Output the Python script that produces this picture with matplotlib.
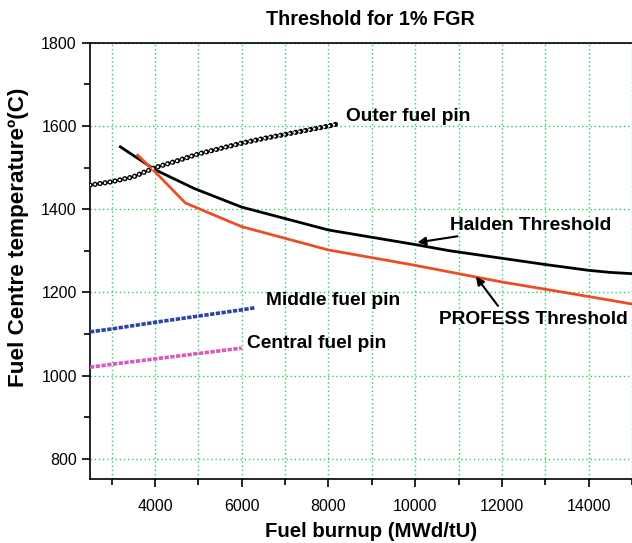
import matplotlib
matplotlib.use("Agg")
import matplotlib.pyplot as plt
from matplotlib.ticker import MultipleLocator

plt.rcParams['font.family'] = ['Liberation Sans', 'DejaVu Sans']

# Data
outer_x = [2500, 3000, 3500, 4000, 4500, 5000, 5500, 6000, 6500, 7000, 7500, 8000, 8200]
outer_y = [1458, 1466, 1478, 1500, 1516, 1533, 1546, 1559, 1570, 1580, 1590, 1600, 1605]

middle_x = [2500, 3000, 4000, 5000, 6000, 6300]
middle_y = [1105, 1112, 1128, 1143, 1158, 1163]

central_x = [2500, 3000, 4000, 5000, 6000]
central_y = [1020, 1027, 1040, 1053, 1066]

halden_x = [3200, 4000, 4900, 6000, 8000, 10000, 10800, 12000, 13000, 14000, 14500, 15000]
halden_y = [1550, 1495, 1450, 1405, 1350, 1315, 1300, 1282, 1267, 1253, 1248, 1245]

profess_x = [3600, 4000, 4700, 6000, 8000, 10000, 12000, 14000, 15000]
profess_y = [1530, 1490, 1415, 1358, 1302, 1265, 1225, 1190, 1172]

fig = plt.figure(figsize=(6.32, 5.43), dpi=100)
ax = fig.add_axes([0.1424, 0.117, 0.8576, 0.804])

# grid first so the curves sit on top
ax.set_xlim(2500, 15000)
ax.set_ylim(750, 1800)
ax.xaxis.set_major_locator(MultipleLocator(2000))
ax.xaxis.set_minor_locator(MultipleLocator(1000))
ax.yaxis.set_major_locator(MultipleLocator(200))
ax.yaxis.set_minor_locator(MultipleLocator(100))
ax.grid(True, axis='x', which='both', color='#2ecc60', linestyle=(0, (1, 2)), linewidth=1)
ax.grid(True, axis='y', which='major', color='#2ecc60', linestyle=(0, (1, 2)), linewidth=1)
ax.set_axisbelow(True)

# outer pin: chain of open circles (black round dots with white centres)
ax.plot(outer_x, outer_y, color='black', linewidth=3.8, linestyle=(0, (0.01, 0.95)),
        dash_capstyle='round', zorder=3)
ax.plot(outer_x, outer_y, color='white', linewidth=1.8, linestyle=(0, (0.01, 3.8 * 0.95 / 1.8)),
        dash_capstyle='round', zorder=4)

ax.plot(middle_x, middle_y, color='#2b44a6', linewidth=2.6, linestyle=(0, (1.2, 0.4)), zorder=3)
ax.plot(central_x, central_y, color='#d65bbd', linewidth=2.6, linestyle=(0, (1.2, 0.4)), zorder=3)

ax.plot(halden_x, halden_y, color='black', linewidth=2, zorder=3)
ax.plot(profess_x, profess_y, color='#ea4f24', linewidth=2, zorder=3)

lab = dict(fontsize=13.8, fontweight='bold', va='center')
ax.text(8400, 1622, 'Outer fuel pin', **lab)
ax.text(6560, 1181, 'Middle fuel pin', **lab)
ax.text(6120, 1077, 'Central fuel pin', **lab)
ax.annotate('Halden Threshold', xy=(10050, 1320), xytext=(10800, 1362),
            arrowprops=dict(arrowstyle='-|>', color='black', lw=1.5, mutation_scale=12,
                            shrinkA=0, shrinkB=0),
            **lab)
ax.annotate('PROFESS Threshold', xy=(11400, 1238), xytext=(10560, 1135),
            arrowprops=dict(arrowstyle='-|>', color='black', lw=1.5, mutation_scale=12,
                            shrinkA=2, shrinkB=0, relpos=(0.33, 1.0)),
            **lab)

ax.spines['right'].set_visible(False)
for s in ['left', 'bottom', 'top']:
    ax.spines[s].set_linewidth(1.2)
ax.tick_params(which='major', direction='out', length=6, width=1.2, labelsize=11.5)
ax.tick_params(which='minor', direction='out', length=4, width=1.2)
ax.tick_params(axis='x', which='both', top=False)
ax.tick_params(axis='x', pad=8)

ax.set_title('Threshold for 1% FGR', fontsize=14.2, fontweight='bold', pad=13, x=0.517)
ax.set_xlabel('Fuel burnup (MWd/tU)', fontsize=14.7, fontweight='bold')
ax.set_ylabel('Fuel Centre temperature\u00ba(C)', fontsize=16.2, fontweight='bold')
ax.xaxis.set_label_coords(0.518, -0.097)
ax.yaxis.set_label_coords(-0.113, 0.555)

fig.savefig('out.png', dpi=100)
